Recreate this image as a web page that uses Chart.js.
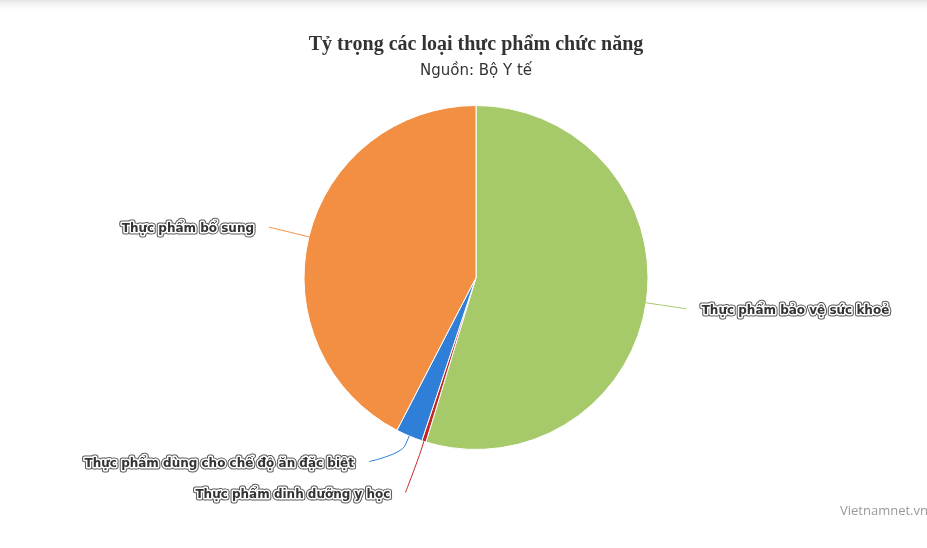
<!DOCTYPE html>
<html>
<head>
<meta charset="utf-8">
<script src="https://cdn.jsdelivr.net/npm/chart.js@4/dist/chart.umd.min.js"></script>
<style>
  html, body { margin: 0; padding: 0; background: #fff; }
  #wrap { width: 927px; height: 548px; position: relative; }
</style>
</head>
<body>
<div id="wrap"><canvas id="pieChart"></canvas></div>
<script>
const categories = [
  'Thực phẩm bảo vệ sức khoẻ',
  'Thực phẩm dinh dưỡng y học',
  'Thực phẩm dùng cho chế độ ăn đặc biệt',
  'Thực phẩm bổ sung'
];
const shares = [54.7, 0.4, 2.5, 42.4];
const sliceColors = ['#a6c96a', '#c42525', '#2f7ed8', '#f28f43'];

const titleText = 'Tỷ trọng các loại thực phẩm chức năng';
const subtitleText = 'Nguồn: Bộ Y tế';
const creditText = 'Vietnamnet.vn';

// nền mờ phía trên + credit
const backdrop = {
  id: 'backdrop',
  beforeDraw(chart) {
    const ctx = chart.ctx;
    const g = ctx.createLinearGradient(0, 0, 0, 14);
    g.addColorStop(0, '#e6e6e6');
    g.addColorStop(1, 'rgba(255,255,255,0)');
    ctx.save();
    ctx.fillStyle = g;
    ctx.fillRect(0, 0, chart.width, 14);
    ctx.restore();
  },
  afterDraw(chart) {
    const ctx = chart.ctx;
    ctx.save();
    ctx.font = '13px "Open Sans", sans-serif';
    ctx.fillStyle = '#999';
    ctx.textAlign = 'right';
    ctx.textBaseline = 'middle';
    ctx.fillText(creditText, chart.width + 1, 511);
    ctx.restore();
  }
};

// nhãn ngoài + đường nối kiểu highcharts
const outsideLabels = {
  id: 'outsideLabels',
  afterDatasetsDraw(chart) {
    const ctx = chart.ctx;
    const meta = chart.getDatasetMeta(0);
    const dist = 41, minGap = 31;
    const items = meta.data.map((arc, i) => {
      const mid = (arc.startAngle + arc.endAngle) / 2;
      const r = arc.outerRadius;
      const R = r + dist;
      return {
        i, mid, r, R, cx: arc.x, cy: arc.y,
        right: Math.cos(mid) >= 0,
        y: arc.y + Math.sin(mid) * R,
        nx: Math.abs(Math.cos(mid) * R)
      };
    });
    [true, false].forEach(side => {
      const group = items.filter(it => it.right === side).sort((a, b) => a.y - b.y);
      for (let k = 1; k < group.length; k++) {
        const a = group[k - 1], b = group[k];
        if (b.y - a.y < minGap) {
          const m = (a.y + b.y) / 2;
          a.y = m - minGap / 2;
          b.y = m + minGap / 2;
        }
      }
    });
    ctx.save();
    items.forEach(it => {
      const dy = it.y - it.cy;
      const circ = Math.sqrt(Math.max(it.R * it.R - dy * dy, 0));
      const dx = circ >= it.nx ? circ : it.nx + 6;
      const sgn = it.right ? 1 : -1;
      const x = it.cx + sgn * dx;
      const ex = it.cx + Math.cos(it.mid) * it.r;
      const ey = it.cy + Math.sin(it.mid) * it.r;
      const bx = it.cx + Math.cos(it.mid) * (it.r + 10);
      const by = it.cy + Math.sin(it.mid) * (it.r + 10);
      ctx.beginPath();
      ctx.moveTo(x, it.y);
      ctx.bezierCurveTo(x, it.y, 2 * bx - ex, 2 * by - ey, bx, by);
      ctx.lineTo(ex, ey);
      ctx.strokeStyle = sliceColors[it.i];
      ctx.lineWidth = 1;
      ctx.stroke();

      const tx = x + sgn * 15;
      const ty = it.y + 2;
      ctx.font = 'bold 12px "DejaVu Sans", sans-serif';
      ctx.textAlign = it.right ? 'left' : 'right';
      ctx.textBaseline = 'middle';
      ctx.lineJoin = 'round';
      ctx.strokeStyle = '#555';
      ctx.lineWidth = 5;
      ctx.strokeText(categories[it.i], tx, ty);
      ctx.strokeStyle = '#fff';
      ctx.lineWidth = 3;
      ctx.strokeText(categories[it.i], tx, ty);
      ctx.fillStyle = '#333';
      ctx.fillText(categories[it.i], tx, ty);
    });
    ctx.restore();
  }
};

new Chart(document.getElementById('pieChart'), {
  type: 'pie',
  data: {
    labels: categories,
    datasets: [{
      data: shares,
      backgroundColor: sliceColors,
      borderColor: '#fff',
      borderWidth: 1,
      hoverOffset: 0
    }]
  },
  options: {
    responsive: true,
    maintainAspectRatio: false,
    animation: false,
    layout: { padding: { top: 0, bottom: 98, left: 25, right: 0 } },
    plugins: {
      legend: { display: false },
      tooltip: { enabled: false },
      title: {
        display: true,
        text: titleText,
        color: '#333',
        font: { family: '"Liberation Serif", "Times New Roman", serif', size: 20, weight: 'bold' },
        padding: { top: 33, bottom: 2 }
      },
      subtitle: {
        display: true,
        text: subtitleText,
        color: '#333',
        font: { family: '"DejaVu Sans", sans-serif', size: 15, weight: 'normal' },
        padding: { top: 3, bottom: 25 }
      }
    }
  },
  plugins: [backdrop, outsideLabels]
});
</script>
</body>
</html>
